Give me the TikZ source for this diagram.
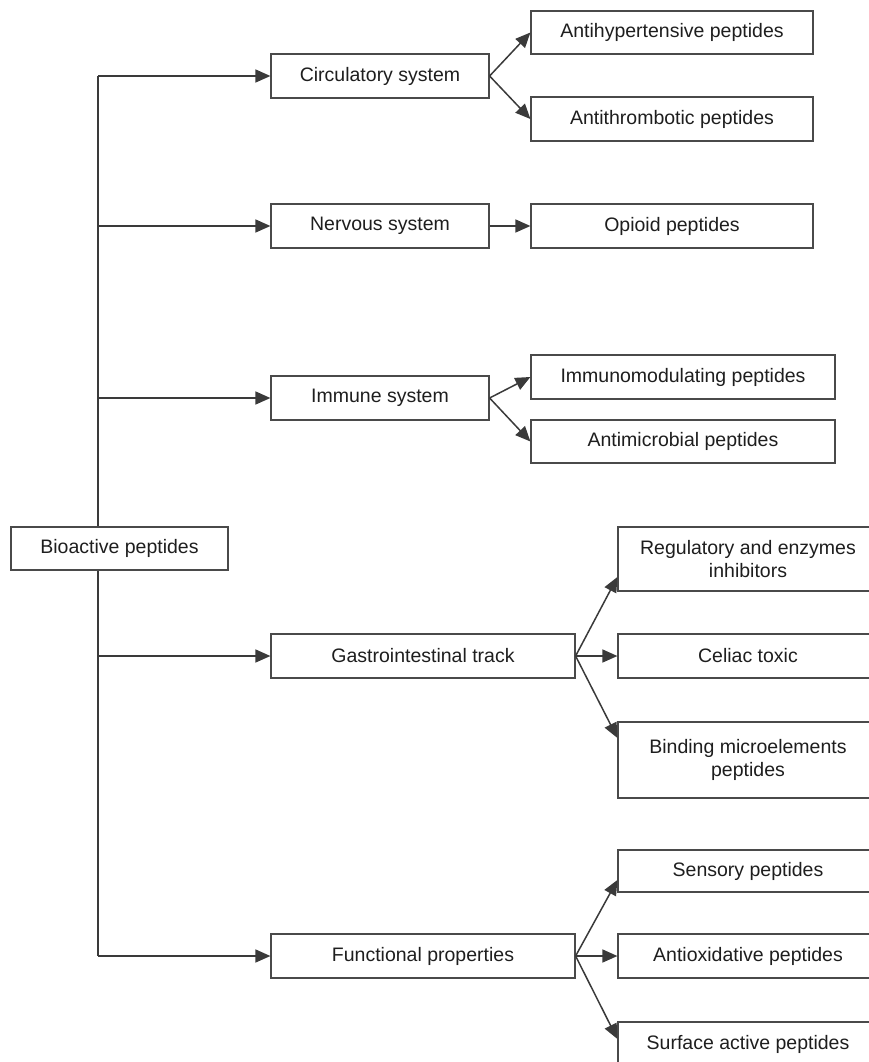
\documentclass[tikz,border=0pt]{standalone}
\usepackage{fontspec}
\setmainfont{Liberation Sans}
\usetikzlibrary{arrows.meta,backgrounds}
\definecolor{linec}{HTML}{3A3A3A}
\definecolor{boxc}{HTML}{4A4A4A}
\definecolor{txtc}{HTML}{1E1E1E}
\tikzset{
  box/.style={draw=boxc, line width=1.2pt, fill=white, text=txtc, align=center,
    inner sep=0pt, font=\fontsize{19.5}{23}\selectfont},
  conn/.style={draw=linec, line width=1.5pt},
  arr/.style={conn, -{Triangle[length=15pt,width=13pt]}},
}
\begin{document}
\begin{tikzpicture}[x=1pt,y=-1pt]
\useasboundingbox (0,0) rectangle (869,1062);
\clip (0,0) rectangle (869,1062);
% left column
\node[box, minimum width=217pt, minimum height=43pt] (bio) at (119.5,548.5) {Bioactive peptides};
% middle column
\node[box, minimum width=218pt, minimum height=44pt] (circ) at (380,76) {Circulatory system};
\node[box, minimum width=218pt, minimum height=44pt] (nerv) at (380,226) {Nervous system};
\node[box, minimum width=218pt, minimum height=44pt] (imm) at (380,398) {Immune system};
\node[box, minimum width=304pt, minimum height=44pt] (gas) at (423,656) {Gastrointestinal track};
\node[box, minimum width=304pt, minimum height=44pt] (fun) at (423,956) {Functional properties};
% right column
\node[box, minimum width=282pt, minimum height=43pt] (ah) at (672,32.5) {Antihypertensive peptides};
\node[box, minimum width=282pt, minimum height=44pt] (at) at (672,119) {Antithrombotic peptides};
\node[box, minimum width=282pt, minimum height=44pt] (op) at (672,226) {Opioid peptides};
\node[box, minimum width=304pt, minimum height=44pt] (imo) at (683,377) {Immunomodulating peptides};
\node[box, minimum width=304pt, minimum height=43pt] (amc) at (683,441.5) {Antimicrobial peptides};
\node[box, minimum width=260pt, minimum height=64pt] (reg) at (748,559) {Regulatory and enzymes\\inhibitors};
\node[box, minimum width=260pt, minimum height=44pt] (cel) at (748,656) {Celiac toxic};
\node[box, minimum width=260pt, minimum height=76pt] (bin) at (748,760) {Binding microelements\\peptides};
\node[box, minimum width=260pt, minimum height=42pt] (sen) at (748,871) {Sensory peptides};
\node[box, minimum width=260pt, minimum height=44pt] (aox) at (748,956) {Antioxidative peptides};
\node[box, minimum width=260pt, minimum height=44pt] (sur) at (748,1044) {Surface active peptides};
% trunk
\coordinate (ttop) at (98,76);
\coordinate (tbot) at (98,956);
\begin{scope}[on background layer]
\draw[conn] (ttop) -- (tbot);
\end{scope}
\draw[arr] (ttop) -- (circ.west);
\draw[arr] (98,226) -- (nerv.west);
\draw[arr] (98,398) -- (imm.west);
\draw[arr] (98,656) -- (gas.west);
\draw[arr] (tbot) -- (fun.west);
% branches
\draw[arr] (circ.east) -- (ah.west);
\draw[arr] (circ.east) -- (at.west);
\draw[arr] (nerv.east) -- (op.west);
\draw[arr] (imm.east) -- (imo.west);
\draw[arr] (imm.east) -- (amc.west);
\draw[arr] (gas.east) -- ([yshift=-18pt]reg.west);
\draw[arr] (gas.east) -- (cel.west);
\draw[arr] (gas.east) -- ([yshift=22pt]bin.west);
\draw[arr] (fun.east) -- ([yshift=-9pt]sen.west);
\draw[arr] (fun.east) -- (aox.west);
\draw[arr] (fun.east) -- ([yshift=5pt]sur.west);
\end{tikzpicture}
\end{document}
